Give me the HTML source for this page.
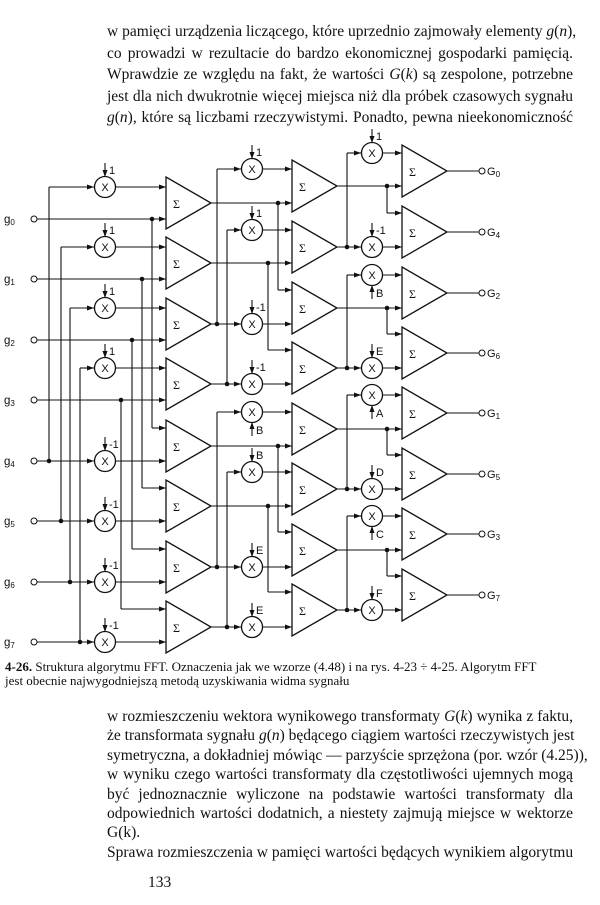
<!DOCTYPE html>
<html><head><meta charset="utf-8"><style>
html,body{margin:0;padding:0;background:#fff;}
body{width:600px;height:905px;position:relative;overflow:hidden;font-family:"Liberation Serif",serif;color:#111;}
.p{position:absolute;left:107px;width:466px;font-size:15.5px;line-height:21.6px;text-align:justify;text-align-last:justify;}
.p div{height:21.6px;white-space:nowrap;}
.b{line-height:19.4px;}
.b div{height:19.4px;}
.cap{position:absolute;left:5px;top:660px;font-size:13px;line-height:13.5px;font-weight:bold;width:580px;white-space:nowrap;}
svg{position:absolute;left:0;top:0;}
</style></head><body>
<div class="p" style="top:21px">
<div style="text-align-last:justify">w pamięci urządzenia liczącego, które uprzednio zajmowały elementy <i>g</i>(<i>n</i>),</div>
<div>co prowadzi w rezultacie do bardzo ekonomicznej gospodarki pamięcią.</div>
<div>Wprawdzie ze względu na fakt, że wartości <i>G</i>(<i>k</i>) są zespolone, potrzebne</div>
<div>jest dla nich dwukrotnie więcej miejsca niż dla próbek czasowych sygnału</div>
<div><i>g</i>(<i>n</i>), które są liczbami rzeczywistymi. Ponadto, pewna nieekonomiczność</div>
</div>
<svg width="600" height="905" id="dg"></svg>
<div class="cap">4-26. <span style="font-weight:normal">Struktura algorytmu FFT. Oznaczenia jak we wzorze (4.48) i na rys. 4-23 ÷ 4-25. Algorytm FFT<br>jest obecnie najwygodniejszą metodą uzyskiwania widma sygnału</span></div>
<div class="p b" style="top:707px">
<div>w rozmieszczeniu wektora wynikowego transformaty <i>G</i>(<i>k</i>) wynika z faktu,</div>
<div>że transformata sygnału <i>g</i>(<i>n</i>) będącego ciągiem wartości rzeczywistych jest</div>
<div>symetryczna, a dokładniej mówiąc — parzyście sprzężona (por. wzór (4.25)),</div>
<div>w wyniku czego wartości transformaty dla częstotliwości ujemnych mogą</div>
<div>być jednoznacznie wyliczone na podstawie wartości transformaty dla</div>
<div>odpowiednich wartości dodatnich, a niestety zajmują miejsce w wektorze</div>
<div style="text-align-last:left">G(k).</div>
<div>Sprawa rozmieszczenia w pamięci wartości będących wynikiem algorytmu</div>
</div>
<div style="position:absolute;left:148px;top:874px;font-size:15.5px">133</div>
<script>
const s1Tops=[177,237,298,358,420,480,541,601];
const s2Tops=[160,221,282,342,403,463,524,584];
const s3Tops=[145,206,267,327,387,448,508,569];
const inLabels=["0","1","2","3","4","5","6","7"];
const w1=["1","1","1","1","-1","-1","-1","-1"];
const w2=["1","1","-1","-1","B","B","E","E"];
const d2=[0,0,0,0,1,0,0,0];
const w3=["1","-1","B","E","A","D","C","F"];
const d3=[0,0,1,0,1,0,1,0];
const outLabels=["0","4","2","6","1","5","3","7"];
const svg=document.getElementById('dg');
const NS='http://www.w3.org/2000/svg';
function mk(t,a){const e=document.createElementNS(NS,t);for(const k in a)e.setAttribute(k,a[k]);svg.appendChild(e);return e;}
function ln(x1,y1,x2,y2){const e=mk('line',{x1,y1,x2,y2,stroke:'#111','stroke-width':1.1});

}
function arr(x,y){const e=mk('polygon',{points:`${x},${y} ${x-7},${y-2.5} ${x-7},${y+2.5}`,fill:'#111'});

}
function dot(x,y){const e=mk('circle',{cx:x,cy:y,r:2.3,fill:'#111'});

}
function wire(x1,x2,y){ln(x1,y,x2,y);arr(x2,y);}
function tri(L,top){const e=mk('polygon',{points:`${L},${top} ${L},${top+52} ${L+45},${top+26}`,fill:'none',stroke:'#111','stroke-width':1.3});


const t=mk('text',{x:L+7,y:top+31,'font-size':12,'font-family':'Liberation Serif, serif',fill:'#111'});t.textContent='Σ';

}
function mul(cx,cy,w,below){const c=mk('circle',{cx,cy,r:10.5,fill:'#fff',stroke:'#111','stroke-width':1.3});


const t=mk('text',{x:cx,y:cy+4,'font-size':11,'text-anchor':'middle','font-family':'Liberation Sans, sans-serif',fill:'#111'});t.textContent='X';


let lt;
if(below){ln(cx,cy+24,cx,cy+10);const e=mk('polygon',{points:`${cx},${cy+10} ${cx-2.5},${cy+17} ${cx+2.5},${cy+17}`,fill:'#111'});lt=mk('text',{x:cx+4,y:cy+22,'font-size':11,'font-family':'Liberation Sans, sans-serif',fill:'#111'});}
else{ln(cx,cy-24,cx,cy-10);const e=mk('polygon',{points:`${cx},${cy-10} ${cx-2.5},${cy-17} ${cx+2.5},${cy-17}`,fill:'#111'});lt=mk('text',{x:cx+4,y:cy-13,'font-size':11,'font-family':'Liberation Sans, sans-serif',fill:'#111'});}
lt.textContent=w;

}
const vx=[49,61,70,80],vx2=[152,142,132,121];
const gy=[];for(let k=0;k<8;k++)gy.push(k<4?s1Tops[k]+42:s1Tops[k]+41);
for(let k=0;k<8;k++){
 const t=mk('text',{x:4,y:gy[k]+4,'font-size':11.5,'font-family':'Liberation Sans, sans-serif',fill:'#111'});
 t.innerHTML='g<tspan font-size="8" dy="2">'+inLabels[k]+'</tspan>';
 
 
 const c=mk('circle',{cx:34,cy:gy[k],r:3,fill:'#fff',stroke:'#111'});
 
 
}
for(let k=0;k<4;k++){
 const top=s1Tops[k],my=top+10;
 wire(37,166,gy[k]);
 ln(vx[k],my,vx[k],gy[k+4]);dot(vx[k],gy[k+4]);wire(vx[k],94,my);wire(116,166,my);
 mul(105,my,w1[k],false);
}
for(let k=4;k<8;k++){
 const top=s1Tops[k];
 wire(37,94,gy[k]);wire(116,166,gy[k]);mul(105,gy[k],w1[k],false);
 const x=vx2[k-4],uy=top+8;ln(x,gy[k-4],x,uy);dot(x,gy[k-4]);wire(x,166,uy);
}
const o1=s1Tops.map(t=>t+26);
s1Tops.forEach(t=>tri(166,t));
for(const g of [0,4]){
 for(let j=0;j<4;j++){
  const i=g+j,top=s2Tops[i];
  if(j<2){const my=top+9,src=o1[g+j+2],x=j==0?217:227;
   ln(x,src,x,my);dot(x,src);wire(x,241,my);wire(263,292,my);mul(252,my,w2[i],d2[i]);
   ln(211,o1[i],292,o1[i]);arr(292,o1[i]);}
  else{const uy=top+8,src=o1[g+j-2],x=j==2?278:268;
   ln(x,src,x,uy);dot(x,src);wire(x,292,uy);
   ln(211,o1[i],241,o1[i]);arr(241,o1[i]);wire(263,292,o1[i]);mul(252,o1[i],w2[i],d2[i]);}
 }
}
const o2=s2Tops.map(t=>t+26);
s2Tops.forEach(t=>tri(292,t));
for(let j=0;j<4;j++){
 const a=2*j,b=2*j+1;
 const my=s3Tops[a]+8;ln(347,o2[b],347,my);dot(347,o2[b]);wire(347,361,my);wire(383,402,my);mul(372,my,w3[a],d3[a]);
 ln(337,o2[a],402,o2[a]);arr(402,o2[a]);
 const uy=s3Tops[b]+7;ln(387,o2[a],387,uy);dot(387,o2[a]);wire(387,402,uy);
 ln(337,o2[b],361,o2[b]);arr(361,o2[b]);wire(383,402,o2[b]);mul(372,o2[b],w3[b],d3[b]);
}
s3Tops.forEach((t,i)=>{tri(402,t);const y=t+26;ln(447,y,479,y);
 const c=mk('circle',{cx:482,cy:y,r:3,fill:'#fff',stroke:'#111'});
 
 
 const tx=mk('text',{x:487,y:y+4,'font-size':11,'font-family':'Liberation Sans, sans-serif',fill:'#111'});
 tx.innerHTML='G<tspan font-size="8" dy="2">'+outLabels[i]+'</tspan>';
 
 
});
</script>
</body></html>
